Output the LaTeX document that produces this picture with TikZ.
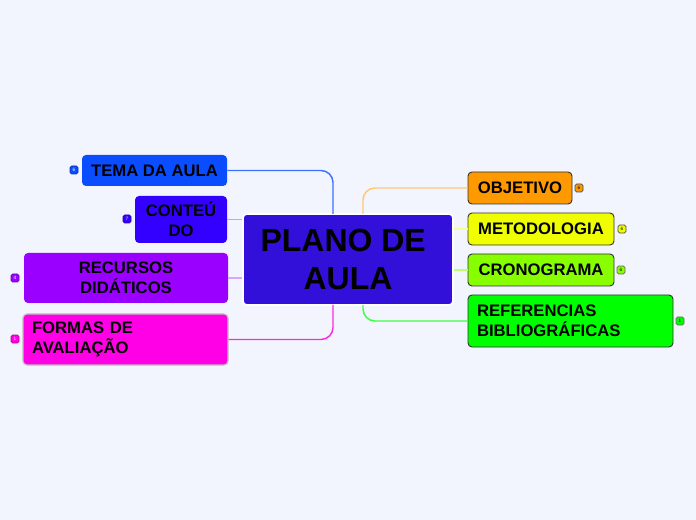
\documentclass[tikz,border=0pt]{standalone}
\usepackage{fontspec}
\setmainfont{Liberation Sans}
\usetikzlibrary{positioning}
\definecolor{bg}{HTML}{F3F5FE}
\definecolor{cen}{HTML}{3210D9}
\definecolor{ctema}{HTML}{0A4DFF}
\definecolor{ccont}{HTML}{3300FF}
\definecolor{crec}{HTML}{9900FF}
\definecolor{cform}{HTML}{FF00E6}
\definecolor{cobj}{HTML}{FF9900}
\definecolor{cmet}{HTML}{F0FF00}
\definecolor{ccro}{HTML}{88FF00}
\definecolor{cref}{HTML}{00FF00}
\tikzset{
  box/.style={rounded corners=3pt, inner sep=0pt, font=\bfseries\fontsize{12.5}{15}\selectfont, text=black, align=center},
  lbox/.style={box, draw=none},
  rbox/.style={box, draw=black!80, line width=0.7pt},
  badge/.style={rounded corners=1.2pt, minimum size=6pt, inner sep=0pt, line width=0.5pt, font=\fontsize{3.5}{3.5}\selectfont},
  conn/.style={line width=1.1pt, rounded corners=9pt},
}
\begin{document}
\begin{tikzpicture}[x=0.75pt,y=-0.75pt]
\fill[bg] (0,0) rectangle (696,520);
\useasboundingbox (0,0) rectangle (696,520);

% central
\node[box, fill=cen, draw=white, line width=1.2pt, minimum width=210*0.75pt, minimum height=91*0.75pt,
  font=\bfseries\fontsize{24}{28}\selectfont] (C) at (348,259.5) {PLANO DE\hspace*{0.3em}\\ AULA};

% left nodes
\node[lbox, fill=ctema, minimum width=145*0.75pt, minimum height=31*0.75pt] (tema) at (154.5,170.5) {TEMA DA AULA};
\node[lbox, fill=ccont, minimum width=92*0.75pt, minimum height=47*0.75pt] (cont) at (181,219.5) {CONTEÚ\\DO};
\node[lbox, fill=crec, minimum width=204*0.75pt, minimum height=50*0.75pt] (rec) at (126,278) {RECURSOS\\ DIDÁTICOS};
\node[lbox, fill=cform, draw=black!25, line width=0.8pt, minimum width=205*0.75pt, minimum height=51*0.75pt,
  text width=187*0.75pt, align=left] (form) at (125.5,339.5) {FORMAS DE\\AVALIAÇÃO};

% right nodes
\node[rbox, fill=cobj, minimum width=104*0.75pt, minimum height=32*0.75pt] (obj) at (520,188) {OBJETIVO};
\node[rbox, fill=cmet, minimum width=146*0.75pt, minimum height=32*0.75pt] (met) at (541,229) {METODOLOGIA};
\node[rbox, fill=ccro, minimum width=146*0.75pt, minimum height=32*0.75pt] (cro) at (541,270) {CRONOGRAMA};
\node[rbox, fill=cref, minimum width=205*0.75pt, minimum height=52*0.75pt,
  text width=187*0.75pt, align=left] (ref) at (570.5,321) {REFERENCIAS\\BIBLIOGRÁFICAS};

% connector start points on central node
\coordinate (tA) at (333,214);
\coordinate (tB) at (363,214);
\coordinate (bA) at (333,305);
\coordinate (bB) at (363,305);

\draw[conn, ctema!80] (tA) |- (tema.east);
\draw[conn, ccont!35] (C.west |- cont.east) -- (cont.east);
\draw[conn, crec!35] (C.west |- rec.east) -- (rec.east);
\draw[conn, cform!85] (bA) |- (form.east);
\draw[conn, cobj!55] (tB) |- (obj.west);
\draw[conn, cmet!45] (C.east |- met.west) -- (met.west);
\draw[conn, ccro!55] (C.east |- cro.west) -- (cro.west);
\draw[conn, cref!75] (bB) |- (ref.west);

% badges
\node[badge, fill=ctema, draw=ctema!70!black, text=white] (b1) at (74,170) {6};
\node[badge, fill=ccont, draw=ccont!70!black, text=white] (b2) at (127,219) {7};
\node[badge, fill=crec, draw=crec!70!black, text=white] (b3) at (15,278) {4};
\node[badge, fill=cform, draw=cform!70!black, text=white] (b4) at (15,339) {1};
\node[badge, fill=cobj, draw=black!70] (b5) at (579,188) {6};
\node[badge, fill=cmet, draw=black!70] (b6) at (622,229) {6};
\node[badge, fill=ccro, draw=black!60] (b7) at (621,270) {6};
\node[badge, fill=cref, draw=black!60] (b8) at (680,321) {1};
\end{tikzpicture}
\end{document}
